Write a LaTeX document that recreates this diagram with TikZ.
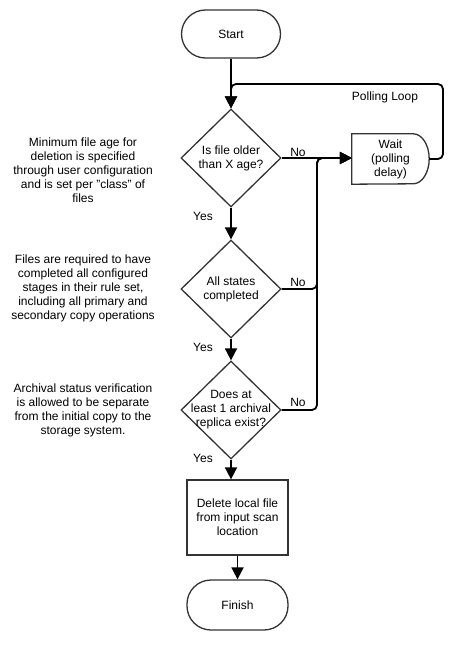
\documentclass[tikz,border=0pt]{standalone}
\usepackage{fontspec}
\setmainfont{Liberation Sans}
\usepackage{tikz}
\usetikzlibrary{arrows.meta,shapes.geometric,calc}
\usepackage{xcolor}
\tikzset{>={Triangle[length=12pt,width=12pt]}}
\definecolor{bordecolor}{RGB}{51,51,51}
\definecolor{lineacolor}{RGB}{0,0,0}
\tikzset{
  terminal/.style={draw=bordecolor, line width=1.3pt, rectangle, rounded corners=24pt,
    minimum width=99pt, minimum height=48pt, inner sep=0pt},
  decision/.style={draw=bordecolor, line width=1.3pt, diamond, minimum width=100pt,
    minimum height=98pt, inner sep=0pt},
  process/.style={draw=bordecolor, line width=1.3pt, rectangle, minimum width=101pt,
    minimum height=75pt, inner sep=0pt, align=center},
  waitbox/.style={rectangle, minimum width=77pt, minimum height=50pt, inner sep=0pt, align=center},
  note/.style={align=center},
  flow/.style={->, draw=lineacolor, line width=1.8pt, rounded corners=5pt},
  etiq/.style={inner sep=1pt},
}

\begin{document}
\begin{tikzpicture}[x=1pt, y=-1pt, font=\fontsize{12}{14}\selectfont]

\useasboundingbox (0,0) rectangle (467,650);

% Nodos del flujo principal
\node[terminal] (start) at (231,34) {Start};
\node[decision, label={[align=center]center:Is file older\\than X age?}] (q1) at (231,158) {};
\node[decision, label={[align=center]center:All states\\completed}] (q2) at (231,289) {};
\node[decision, label={[align=center]center:Does at\\least 1 archival\\replica exist?}] (q3) at (231,410) {};
\node[process] (del) at (237.5,517.5) {Delete local file\\from input scan\\location};
\node[terminal, minimum width=101pt, minimum height=50pt] (finish) at (237.5,605) {Finish};

% Caja de espera (forma de retardo)
\node[waitbox] (wait) at (390.5,159) {Wait\\(polling\\delay)};
\draw[draw=bordecolor, line width=1.3pt] (wait.north west) -- ([xshift=-16pt]wait.north east)
  arc[start angle=90, end angle=-90, x radius=16pt, y radius=25pt] -- (wait.south west) -- cycle;

% Notas de la izquierda
\node[note] (n1) at (83,170) {Minimum file age for\\deletion is specified\\through user configuration\\and is set per "class" of\\files};
\node[note] (n2) at (83,288) {Files are required to have\\completed all configured\\stages in their rule set,\\including all primary and\\secondary copy operations};
\node[note] (n3) at (83,410) {Archival status verification\\is allowed to be separate\\from the initial copy to the\\storage system.};

% Puntos auxiliares
\coordinate (bus) at (317,0);
\coordinate (looptop) at (443,84);

% Conectores
\draw[flow] (start) -- (q1.north);
\draw[flow] (wait.east) -| (looptop) -| (q1.north);
\draw[flow] (q1.east) -- (q1.east -| wait.west);
\draw[flow] (q1.south) -- (q2.north);
\draw[flow] (q2.east) -- (q2.east -| bus) -- (bus |- q1.east) -- (q1.east -| wait.west);
\draw[flow] (q3.east) -- (q3.east -| bus) -- (bus |- q1.east) -- (q1.east -| wait.west);
\draw[flow] (q2.south) -- (q3.north);
\draw[flow] (q3.south) -- (q3.south |- del.north);
\draw[flow] (del.south) -- (finish.north);

% Etiquetas
\node[etiq] (pl) at (385,97) {Polling Loop};
\node[etiq] (no1) at (298,152) {No};
\node[etiq] (no2) at (298,282) {No};
\node[etiq] (no3) at (298,402) {No};
\node[etiq] (yes1) at (203,216) {Yes};
\node[etiq] (yes2) at (203,347) {Yes};
\node[etiq] (yes3) at (203,458) {Yes};

\end{tikzpicture}
\end{document}
